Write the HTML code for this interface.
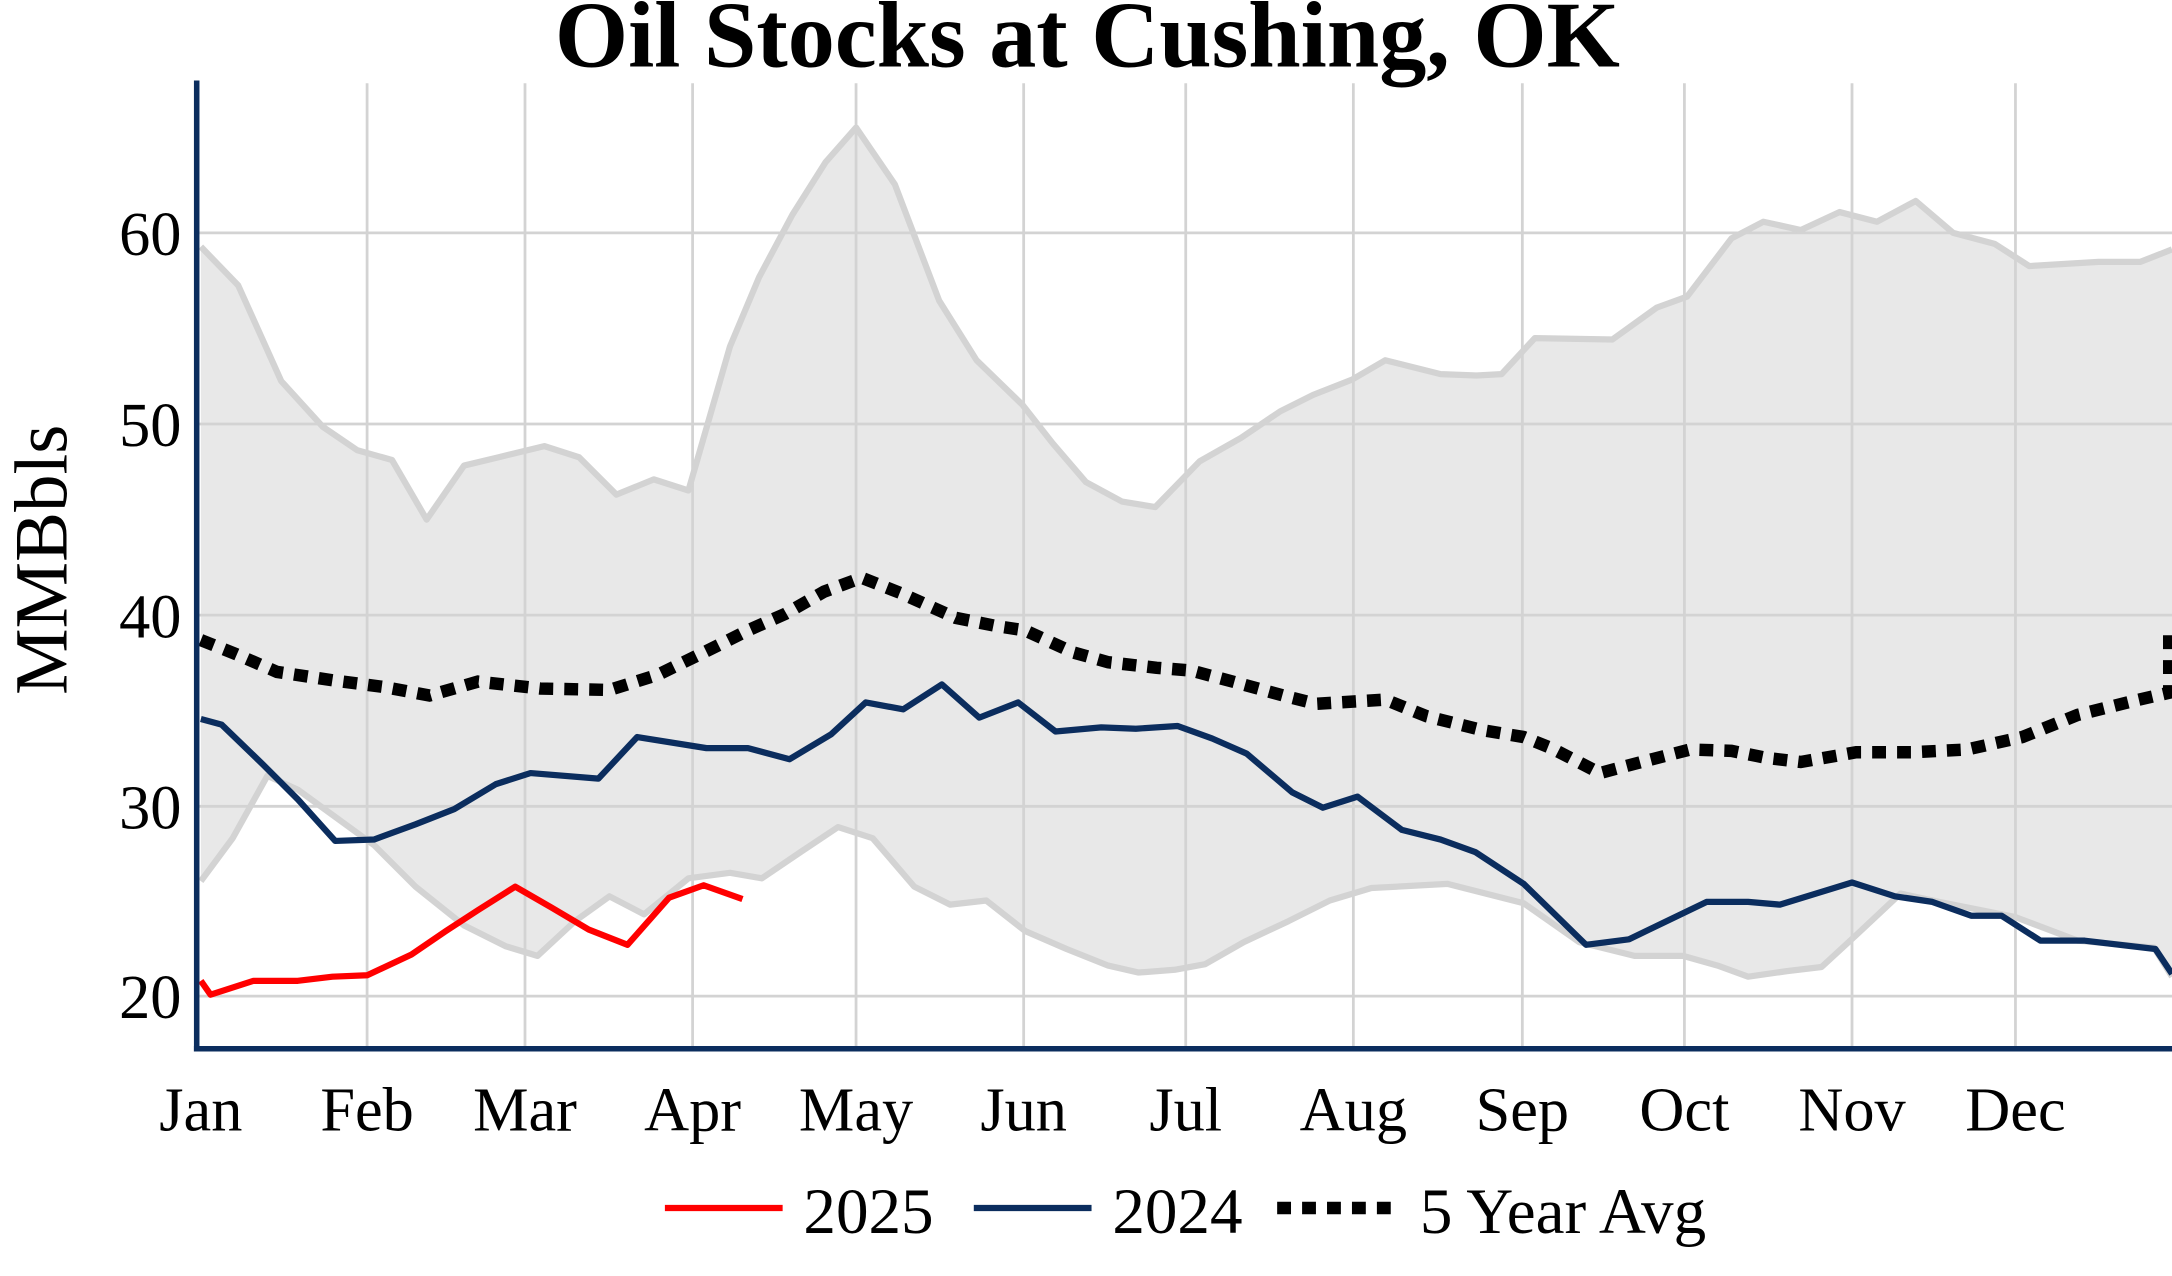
<!DOCTYPE html>
<html><head><meta charset="utf-8"><style>html,body{margin:0;padding:0;background:#fff}svg{display:block}</style></head>
<body>
<svg width="2172" height="1276" viewBox="0 0 1568 921" xmlns="http://www.w3.org/2000/svg" font-family="'Liberation Serif',serif">
<rect width="1568" height="921" fill="#fff"/>
<polygon fill="#e8e8e8" points="145,178 172,206 203,275 233,308 258,325 283,332 308,375 335,336 360,330 393,322 418,330 445,357 472,346 497,354 527,250 548,200 572,155 596,117 618,92 646,133 678,217 705,260 738,292 760,320 784,348 810,362 834,366 866,333 896,316 924,297 948,285 976,274 1000,260 1040,270 1066,271 1084,270 1108,244 1164,245 1196,222 1218,214 1250,172 1273,160 1300,166 1328,153 1355,160 1383,145 1410,168 1440,176 1465,192 1515,189 1545,189 1568,180 1568,705 1555,684 1500,679 1455,662 1400,651 1372,645 1340,675 1315,698 1290,701 1262,705 1240,697 1215,690 1180,690 1140,680 1100,652 1045,638 990,641 960,650 930,665 898,680 870,696 848,700 822,702 800,697 770,685 740,672 712,650 686,653 660,640 630,605 605,597 578,615 550,634 527,630 497,634 465,660 440,647 415,665 388,690 365,683 335,668 300,640 270,610 215,570 193,560 168,605 145,636"/>
<g stroke="#d3d3d3" stroke-width="2">
<line x1="142" y1="168" x2="1568" y2="168"/><line x1="142" y1="306" x2="1568" y2="306"/><line x1="142" y1="444" x2="1568" y2="444"/><line x1="142" y1="582" x2="1568" y2="582"/><line x1="142" y1="719" x2="1568" y2="719"/>
<line x1="265" y1="60" x2="265" y2="757"/><line x1="379" y1="60" x2="379" y2="757"/><line x1="500" y1="60" x2="500" y2="757"/><line x1="618" y1="60" x2="618" y2="757"/><line x1="739" y1="60" x2="739" y2="757"/><line x1="856" y1="60" x2="856" y2="757"/><line x1="977" y1="60" x2="977" y2="757"/><line x1="1099" y1="60" x2="1099" y2="757"/><line x1="1216" y1="60" x2="1216" y2="757"/><line x1="1337" y1="60" x2="1337" y2="757"/><line x1="1455" y1="60" x2="1455" y2="757"/>
</g>
<g fill="none" stroke="#d3d3d3" stroke-width="4.5" stroke-linejoin="round">
<polyline points="145,178 172,206 203,275 233,308 258,325 283,332 308,375 335,336 360,330 393,322 418,330 445,357 472,346 497,354 527,250 548,200 572,155 596,117 618,92 646,133 678,217 705,260 738,292 760,320 784,348 810,362 834,366 866,333 896,316 924,297 948,285 976,274 1000,260 1040,270 1066,271 1084,270 1108,244 1164,245 1196,222 1218,214 1250,172 1273,160 1300,166 1328,153 1355,160 1383,145 1410,168 1440,176 1465,192 1515,189 1545,189 1568,180"/>
<polyline points="145,636 168,605 193,560 215,570 270,610 300,640 335,668 365,683 388,690 415,665 440,647 465,660 497,634 527,630 550,634 578,615 605,597 630,605 660,640 686,653 712,650 740,672 770,685 800,697 822,702 848,700 870,696 898,680 930,665 960,650 990,641 1045,638 1100,652 1140,680 1180,690 1215,690 1240,697 1262,705 1290,701 1315,698 1340,675 1372,645 1400,651 1455,662 1500,679 1555,684 1568,705"/>
</g>
<polyline fill="none" stroke="#000" stroke-width="9" stroke-dasharray="10 8" points="145,462 170,472 200,485 240,491 278,496 310,502 345,492 390,497 440,498 475,487 510,470 540,455 567,443 595,427 622,417 650,428 690,446 720,452 740,455 775,471 800,478 835,482 860,484 890,492 930,503 950,508 1000,505 1030,517 1070,527 1100,532 1120,540 1155,558 1185,550 1220,541 1250,542 1275,547 1300,550 1340,543 1380,543 1420,541 1460,532 1500,516 1540,506 1566,500 1566,452"/>
<polyline fill="none" stroke="#0b2d5e" stroke-width="4.5" stroke-linejoin="round" points="145,519 160,523 190,552 215,577 242,607 270,606 300,595 328,584 358,566 383,558 432,562 460,532 510,540 540,540 570,548 600,530 625,507 652,512 680,494 707,518 735,507 762,528 795,525 820,526 850,524 875,533 900,544 933,572 955,583 980,575 1012,599 1040,606 1065,615 1100,638 1145,682 1176,678 1205,664 1232,651 1262,651 1285,653 1337,637 1368,647 1395,651 1423,661 1445,661 1473,679 1505,679 1556,685 1568,703"/>
<polyline fill="none" stroke="#ff0000" stroke-width="4.5" stroke-linejoin="round" points="145,708 152,718 183,708 215,708 240,705 265,704 297,689 322,672 345,657 372,640 398,655 425,671 453,682 483,648 508,639 536,649"/>
<line x1="142" y1="58" x2="142" y2="759" stroke="#0b2d5e" stroke-width="4"/>
<line x1="140" y1="757" x2="1568" y2="757" stroke="#0b2d5e" stroke-width="4"/>
<g font-size="45" fill="#000" text-anchor="end">
<text x="131" y="184">60</text><text x="131" y="322">50</text><text x="131" y="460">40</text><text x="131" y="598">30</text><text x="131" y="735">20</text>
</g>
<g font-size="45" fill="#000" text-anchor="middle">
<text x="145" y="816">Jan</text><text x="265" y="816">Feb</text><text x="379" y="816">Mar</text><text x="500" y="816">Apr</text><text x="618" y="816">May</text><text x="739" y="816">Jun</text><text x="856" y="816">Jul</text><text x="977" y="816">Aug</text><text x="1099" y="816">Sep</text><text x="1216" y="816">Oct</text><text x="1337" y="816">Nov</text><text x="1455" y="816">Dec</text>
</g>
<text x="48" y="404" font-size="54" text-anchor="middle" transform="rotate(-90 48 404)">MMBbls</text>
<text x="785" y="48" font-size="68" font-weight="bold" text-anchor="middle">Oil Stocks at Cushing, OK</text>
<line x1="480" y1="872" x2="565" y2="872" stroke="#ff0000" stroke-width="4.5"/>
<text x="580" y="890" font-size="47">2025</text>
<line x1="703" y1="872" x2="788" y2="872" stroke="#0b2d5e" stroke-width="4.5"/>
<text x="803" y="890" font-size="47">2024</text>
<line x1="922" y1="872" x2="1007" y2="872" stroke="#000" stroke-width="9" stroke-dasharray="10 8"/>
<text x="1025" y="890" font-size="47">5 Year Avg</text>
</svg>
</body></html>
